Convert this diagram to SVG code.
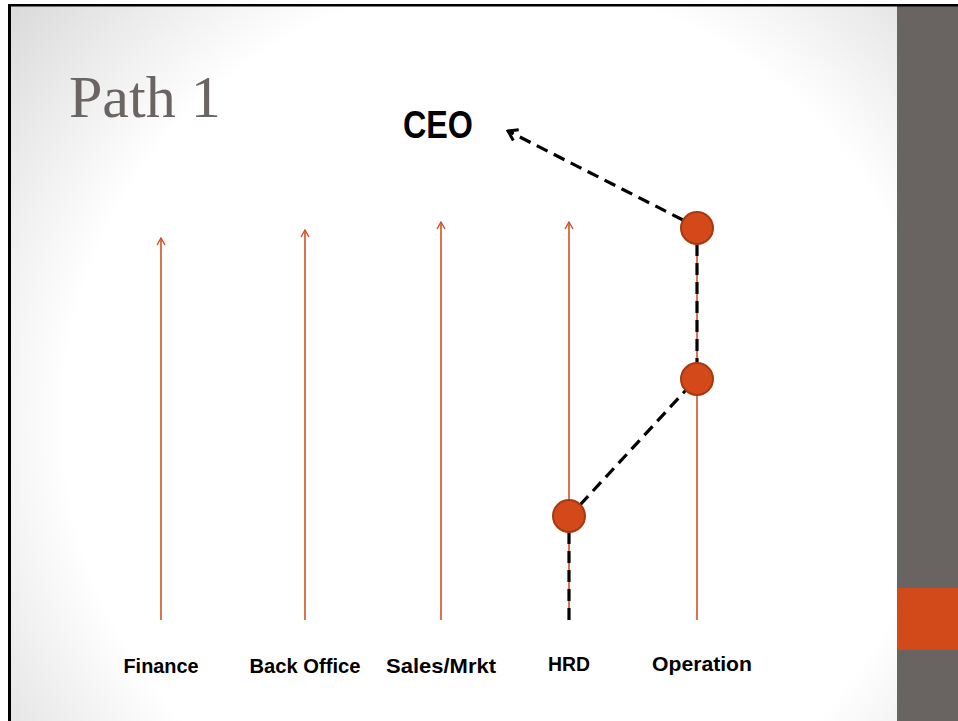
<svg xmlns="http://www.w3.org/2000/svg" width="958" height="721" viewBox="0 0 958 721">
  <defs>
    <radialGradient id="slideBg" cx="500" cy="420" r="640" gradientUnits="userSpaceOnUse">
      <stop offset="0" stop-color="#ffffff"/>
      <stop offset="0.68" stop-color="#ffffff"/>
      <stop offset="1" stop-color="#dadada"/>
    </radialGradient>
    <marker id="orangeHead" viewBox="0 0 10 10" refX="9" refY="5" markerWidth="10" markerHeight="10" markerUnits="userSpaceOnUse" orient="auto">
      <path d="M2,1 L9,5 L2,9" fill="none" stroke="#d5501f" stroke-width="1.4"/>
    </marker>
    <marker id="blackHead" viewBox="0 0 16 16" refX="14" refY="8" markerWidth="16" markerHeight="16" markerUnits="userSpaceOnUse" orient="auto">
      <path d="M5,2 L14,8 L5,14" fill="none" stroke="#000" stroke-width="3"/>
    </marker>
  </defs>
  <style>
    .lane { stroke: #d5501f; stroke-width: 1.6; fill: none; }
    .dash { stroke: #000; stroke-width: 3.2; fill: none; stroke-dasharray: 12 7; }
    .node { fill: #d4491a; stroke: #a83812; stroke-width: 2; }
    .label { font-family: "Liberation Sans", Arial, sans-serif; font-weight: bold; font-size: 21px; fill: #000; text-anchor: middle; }
    .title { font-family: "Liberation Serif", "DejaVu Serif", serif; font-size: 60px; fill: #6a6462; }
    .ceo { font-family: "Liberation Sans", Arial, sans-serif; font-weight: bold; font-size: 38px; fill: #000; }
  </style>

  <!-- slide background and frame -->
  <rect x="0" y="0" width="958" height="721" fill="#ffffff"/>
  <rect x="10" y="5" width="890" height="716" fill="url(#slideBg)"/>
  <rect x="897" y="4" width="61" height="717" fill="#696462"/>
  <rect x="897" y="588" width="61" height="62" fill="#d24a19"/>
  <rect x="8" y="4" width="950" height="2.5" fill="#000"/>
  <rect x="8" y="4" width="3" height="717" fill="#000"/>

  <text class="title" x="69" y="117">Path 1</text>

  <!-- department lanes -->
  <g id="lanes">
    <line class="lane" x1="161" y1="620" x2="161" y2="238" marker-end="url(#orangeHead)"/>
    <line class="lane" x1="305" y1="620" x2="305" y2="230" marker-end="url(#orangeHead)"/>
    <line class="lane" x1="441" y1="620" x2="441" y2="222" marker-end="url(#orangeHead)"/>
    <line class="lane" x1="569" y1="620" x2="569" y2="222" marker-end="url(#orangeHead)"/>
    <line class="lane" x1="697" y1="620" x2="697" y2="228"/>
  </g>

  <!-- promotion path -->
  <g id="connectors">
    <line class="dash" x1="569" y1="532" x2="569" y2="620"/>
    <line class="dash" x1="580" y1="505" x2="686" y2="390"/>
    <line class="dash" x1="697" y1="244" x2="697" y2="364"/>
    <line class="dash" x1="683" y1="220" x2="508" y2="131" marker-end="url(#blackHead)"/>
  </g>

  <g id="node-hrd"><circle class="node" cx="569" cy="516" r="16"/></g>
  <g id="node-op-mid"><circle class="node" cx="697" cy="379" r="16"/></g>
  <g id="node-op-top"><circle class="node" cx="697" cy="228" r="16"/></g>

  <g id="ceo"><text class="ceo" x="403" y="138" textLength="70" lengthAdjust="spacingAndGlyphs">CEO</text></g>

  <g id="labels">
    <text class="label" x="161" y="673" textLength="75" lengthAdjust="spacingAndGlyphs">Finance</text>
    <text class="label" x="305" y="673" textLength="111" lengthAdjust="spacingAndGlyphs">Back Office</text>
    <text class="label" x="441" y="673" textLength="110" lengthAdjust="spacingAndGlyphs">Sales/Mrkt</text>
    <text class="label" x="569" y="671" textLength="42" lengthAdjust="spacingAndGlyphs">HRD</text>
    <text class="label" x="702" y="671" textLength="100" lengthAdjust="spacingAndGlyphs">Operation</text>
  </g>
</svg>
